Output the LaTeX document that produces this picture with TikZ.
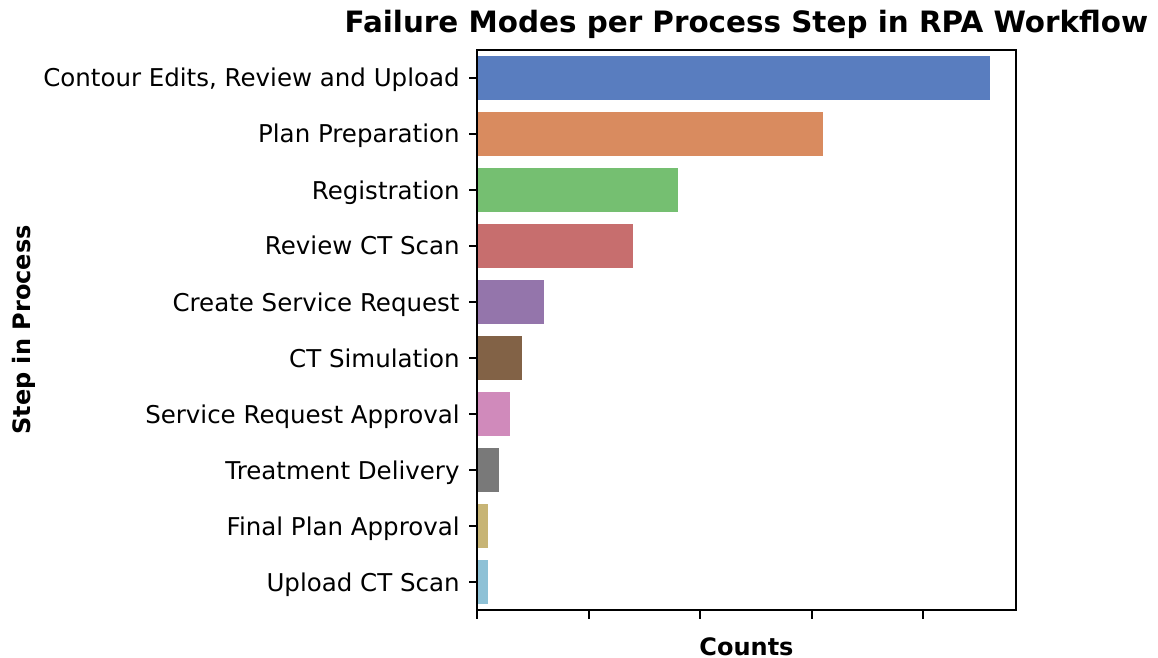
\documentclass[tikz,border=0pt]{standalone}
\usepackage{fontspec}
\setmainfont{DejaVu Sans}
\usetikzlibrary{positioning}
\definecolor{barblue}{HTML}{597DBF}
\definecolor{barorange}{HTML}{D98B5F}
\definecolor{bargreen}{HTML}{75BF71}
\definecolor{barred}{HTML}{C76E6E}
\definecolor{barpurple}{HTML}{9475AB}
\definecolor{barbrown}{HTML}{826246}
\definecolor{barpink}{HTML}{D08ABB}
\definecolor{bargray}{HTML}{797979}
\definecolor{barolive}{HTML}{C7B475}
\definecolor{barcyan}{HTML}{8EC1D6}
\tikzset{
  ticklabel/.style={anchor=base east, inner sep=0pt, font=\fontsize{12.25}{14}\selectfont},
  axislabel/.style={anchor=base, inner sep=0pt, font=\fontsize{12}{14}\selectfont\bfseries},
  axisline/.style={line width=1pt}
}
\begin{document}
\begin{tikzpicture}[x=0.5pt,y=-0.5pt]
  \useasboundingbox (0,0) rectangle (1158,658);
  % Bars (one row every 56px, 11.15px per count)
  \foreach \i/\n/\c in {0/46/barblue,1/31/barorange,2/18/bargreen,3/14/barred,4/6/barpurple,
                        5/4/barbrown,6/3/barpink,7/2/bargray,8/1/barolive,9/1/barcyan}
    \fill[\c] (477,{55.6+56*\i}) rectangle ({477+11.15*\n},{100.4+56*\i});
  % Axes frame
  \draw[axisline] (477,50) rectangle (1015.5,610);
  % Count ticks
  \foreach \k in {0,...,4}
    \draw[axisline] ({477+111.5*\k},610) -- ++(0,8.5);
  % Step ticks and labels
  \foreach \i/\t in {0/{Contour Edits, Review and Upload},1/{Plan Preparation},2/{Registration},
                     3/{Review CT Scan},4/{Create Service Request},5/{CT Simulation},
                     6/{Service Request Approval},7/{Treatment Delivery},
                     8/{Final Plan Approval},9/{Upload CT Scan}}
  {
    \draw[axisline] (477,{78+56*\i}) -- ++(-8.5,0);
    \node[ticklabel] (step\i) at (460,{87+56*\i}) {\t};
  }
  % Title and axis labels
  \node[anchor=base, inner sep=0pt, font=\fontsize{14.7}{17}\selectfont\bfseries]
    (title) at (746.5,33) {Failure Modes per Process Step in RPA Workflow};
  \node[axislabel] (xlab) at (746.5,655) {Counts};
  \node[axislabel, rotate=90] (ylab) at (31,330) {Step in Process};
\end{tikzpicture}
\end{document}
